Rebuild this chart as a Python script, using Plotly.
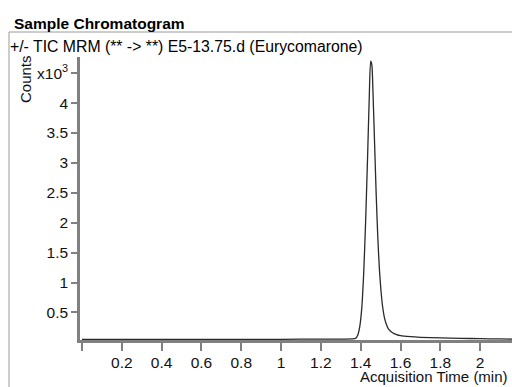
import plotly.graph_objects as go

# Acquisition time (min) and counts
time_min = [0.0, 0.2, 0.4, 0.6, 0.8, 1.0, 1.2, 1.30, 1.36, 1.375, 1.385, 1.395,
            1.405, 1.415, 1.425, 1.435, 1.443, 1.450, 1.456, 1.462, 1.47, 1.478,
            1.486, 1.494, 1.502, 1.51, 1.52, 1.53, 1.54, 1.56, 1.58, 1.60, 1.65,
            1.7, 1.8, 1.9, 2.0, 2.1, 2.17]
counts = [50, 50, 50, 50, 50, 52, 55, 56, 58, 70, 120, 260,
          560, 1150, 2050, 3150, 4100, 4700, 4640, 4150, 3300, 2450,
          1750, 1220, 860, 600, 400, 290, 220, 160, 130, 112, 95,
          85, 75, 68, 62, 58, 55]

x_ticks = [0, 0.2, 0.4, 0.6, 0.8, 1, 1.2, 1.4, 1.6, 1.8, 2]
x_labels = [" ", "0.2", "0.4", "0.6", "0.8", "1", "1.2", "1.4", "1.6", "1.8", "2"]
y_ticks = [500, 1000, 1500, 2000, 2500, 3000, 3500, 4000, 4500]
y_labels = ["0.5", "1", "1.5", "2", "2.5", "3", "3.5", "4", "x10<sup>3</sup>"]

W, H = 512, 387
L, R, T, B = 80, 0, 57, 47
PW, PH = W - L - R, H - T - B

def px(p):
    return (p - L) / PW

def py(p):
    return (H - B - p) / PH

FONT = "Liberation Sans, Arial, sans-serif"

fig = go.Figure()
fig.add_trace(go.Scatter(
    x=time_min, y=counts, mode="lines",
    line=dict(color="#2a2a2a", width=1.3, shape="spline", smoothing=0.6),
    showlegend=False, hoverinfo="skip"))

fig.update_layout(
    width=W, height=H,
    margin=dict(l=L, r=R, t=T, b=B, pad=0),
    paper_bgcolor="white", plot_bgcolor="white",
    font=dict(family=FONT, size=15, color="#111111"),
    xaxis=dict(range=[-0.01, 2.16], tickvals=x_ticks, ticktext=x_labels,
               showgrid=False, zeroline=False, showline=True,
               linecolor="#808080", linewidth=3,
               ticks="outside", ticklen=8, tickwidth=1.5, tickcolor="#808080",
               ticklabelstandoff=-2,
               tickfont=dict(family=FONT, size=15.5, color="#111111")),
    yaxis=dict(range=[40, 4770], tickvals=y_ticks, ticktext=y_labels,
               showgrid=False, zeroline=False, showline=True,
               linecolor="#808080", linewidth=2.5,
               ticks="outside", ticklen=6, tickwidth=1.5, tickcolor="#808080",
               tickfont=dict(family=FONT, size=15.5, color="#111111")),
    shapes=[
        dict(type="line", xref="paper", yref="paper",
             x0=px(9), y0=py(32), x1=px(513), y1=py(32),
             line=dict(color="#9a9a9a", width=1)),
        dict(type="line", xref="paper", yref="paper",
             x0=px(9), y0=py(32), x1=px(9), y1=py(390),
             line=dict(color="#9a9a9a", width=1)),
    ],
    annotations=[
        dict(text="<b>Sample Chromatogram</b>", xref="paper", yref="paper",
             x=px(12), y=py(23), xanchor="left", yanchor="middle",
             showarrow=False, font=dict(family=FONT, size=15.5, color="#000000")),
        dict(text="+/- TIC MRM (** -> **) E5-13.75.d (Eurycomarone)",
             xref="paper", yref="paper", x=px(8), y=py(47),
             xanchor="left", yanchor="middle", showarrow=False,
             font=dict(family=FONT, size=15.8, color="#000000")),
        dict(text="Counts", xref="paper", yref="paper", x=px(25), y=py(79),
             xanchor="center", yanchor="middle", textangle=-90,
             showarrow=False, font=dict(family=FONT, size=15, color="#111111")),
        dict(text="Acquisition Time (min)", xref="paper", yref="paper",
             x=px(510), y=py(376), xanchor="right", yanchor="middle",
             showarrow=False, font=dict(family=FONT, size=15, color="#111111")),
    ],
)

fig.write_html("out.html")
